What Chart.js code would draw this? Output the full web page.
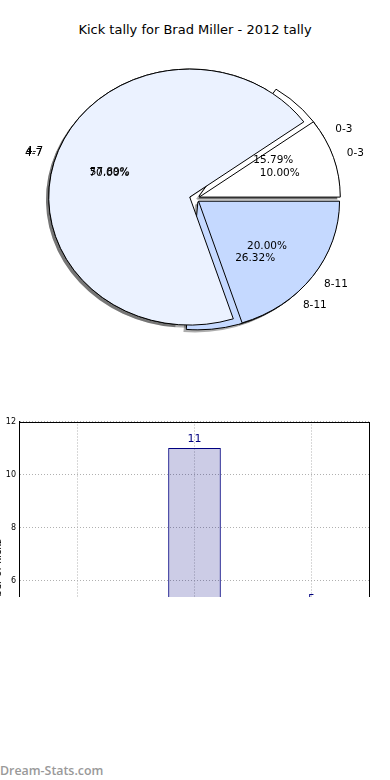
<!DOCTYPE html>
<html><head><meta charset="utf-8">
<script src="https://cdn.jsdelivr.net/npm/chart.js@4/dist/chart.umd.min.js"></script>
<style>
html,body{margin:0;padding:0;background:#fff;width:390px;height:780px;overflow:hidden;position:relative;font-family:"DejaVu Sans",sans-serif;}
#title{position:absolute;top:22px;left:0;width:390px;text-align:center;font-size:13px;line-height:16px;color:#000;}
#pieCanvas{position:absolute;left:0;top:0;}
#barClip{position:absolute;left:0;top:400px;width:390px;height:197px;overflow:hidden;}
#barCanvas{position:absolute;left:0;top:0;}
#ylab{position:absolute;left:-42px;top:174px;width:80px;height:12px;line-height:12px;text-align:center;font-size:10px;color:#000;transform:rotate(-90deg);white-space:nowrap;}
#wm{position:absolute;left:0;top:762px;font-family:"Open Sans",sans-serif;font-weight:600;font-size:12.4px;color:#999;}
</style></head><body>
<div id="title">Kick tally for Brad Miller - 2012 tally</div>
<canvas id="pieCanvas" width="390" height="400"></canvas>
<div id="barClip">
<canvas id="barCanvas" width="390" height="348"></canvas>
<div id="ylab">Number of kicks</div>
</div>
<div id="wm">Dream-Stats.com</div>
<script>
// ---- data ----
const kickRanges = ['0-3', '4-7', '8-11'];
const tally2012 = [3, 11, 5];          // Brad Miller 2012 counts (back pie + bars)
const comparisonPct = [10, 70, 20];    // overlaid comparison pie (%)
const sliceColors = ['#ffffff', '#ebf2ff', '#c5d9ff'];
const yTicksMax = 12;

const rev = a => a.slice().reverse();

const pieDraw = {
  id: 'pieDraw',
  beforeDatasetsDraw(chart) {
    const ctx = chart.ctx;
    const metas = [chart.getDatasetMeta(1), chart.getDatasetMeta(0)];
    const R = 141, k = 128 / 141, d = 5, sx = -2.8, sy = 2.6;
    const cx = metas[0].data[0].x, cy = metas[0].data[0].y;
    function wedge(el, dx, dy) {
      const mid = (el.startAngle + el.endAngle) / 2;
      const ox = Math.cos(mid) * d, oy = Math.sin(mid) * d;
      ctx.save();
      ctx.translate(cx + dx, cy + dy);
      ctx.scale(1, k);
      ctx.beginPath();
      ctx.moveTo(ox, oy);
      ctx.arc(ox, oy, R, el.startAngle, el.endAngle);
      ctx.closePath();
      ctx.restore();
    }
    ctx.save();
    ctx.fillStyle = 'rgba(0,0,0,0.32)';
    metas.forEach(m => m.data.forEach(el => { wedge(el, sx, sy); ctx.fill(); }));
    metas.forEach(m => m.data.forEach(el => {
      wedge(el, 0, 0);
      ctx.fillStyle = el.options.backgroundColor;
      ctx.fill();
      ctx.strokeStyle = '#000';
      ctx.lineWidth = 1;
      ctx.lineJoin = 'miter';
      ctx.stroke();
    }));
    ctx.restore();
    return false;
  },
  afterDraw(chart) {
    const ctx = chart.ctx;
    const R = 141, k = 128 / 141, d = 5;
    const order = [1, 0];
    const cx = chart.getDatasetMeta(1).data[0].x, cy = chart.getDatasetMeta(1).data[0].y;
    ctx.save();
    ctx.font = '10.5px "DejaVu Sans"';
    ctx.fillStyle = '#000';
    ctx.textBaseline = 'middle';
    order.forEach(di => {
      const meta = chart.getDatasetMeta(di);
      const vals = chart.data.datasets[di].data;
      const sum = vals.reduce((a, b) => a + b, 0);
      meta.data.forEach((el, i) => {
        const mid = (el.startAngle + el.endAngle) / 2;
        const ux = Math.cos(mid), uy = Math.sin(mid);
        const lx = cx + ux * (d + 1.1 * R), ly = cy + uy * (d + 1.1 * R) * k;
        ctx.textAlign = ux > 0 ? 'left' : 'right';
        ctx.fillText(chart.data.labels[i], lx, ly);
        const px = cx + ux * (d + 0.6 * R), py = cy + uy * (d + 0.6 * R) * k;
        ctx.textAlign = 'center';
        ctx.fillText((vals[i] / sum * 100).toFixed(2) + '%', px, py);
      });
    });
    ctx.restore();
  }
};

new Chart(document.getElementById('pieCanvas'), {
  type: 'pie',
  data: {
    labels: rev(kickRanges),
    datasets: [
      { data: rev(comparisonPct), backgroundColor: rev(sliceColors), borderColor: '#000', borderWidth: 1 },
      { data: rev(tally2012), backgroundColor: rev(sliceColors), borderColor: '#000', borderWidth: 1 }
    ]
  },
  options: {
    responsive: false, animation: false, devicePixelRatio: 1, rotation: 90,
    layout: { padding: { left: 0, right: 1, top: 0, bottom: 3 } },
    plugins: { legend: { display: false }, tooltip: { enabled: false } }
  },
  plugins: [pieDraw]
});

const barExtras = {
  id: 'barExtras',
  afterDatasetsDraw(chart) {
    const ctx = chart.ctx;
    const meta = chart.getDatasetMeta(0);
    ctx.save();
    ctx.font = '11px "DejaVu Sans"';
    ctx.fillStyle = '#000080';
    ctx.textAlign = 'center';
    ctx.textBaseline = 'bottom';
    meta.data.forEach((el, i) => {
      ctx.fillText(String(chart.data.datasets[0].data[i]), el.x, el.y - 3);
    });
    ctx.restore();
  },
  afterDraw(chart) {
    const ctx = chart.ctx, a = chart.chartArea;
    ctx.save();
    ctx.strokeStyle = '#000';
    ctx.lineWidth = 1;
    ctx.strokeRect(Math.round(a.left) + 0.5, Math.round(a.top) + 0.5, Math.round(a.right - a.left) - 1, Math.round(a.bottom - a.top) - 1);
    ctx.restore();
  }
};

new Chart(document.getElementById('barCanvas'), {
  type: 'bar',
  data: {
    labels: kickRanges,
    datasets: [{
      data: tally2012,
      backgroundColor: 'rgba(0,0,128,0.2)',
      borderColor: '#000080',
      borderWidth: 1,
      barPercentage: 0.45,
      categoryPercentage: 1
    }]
  },
  options: {
    responsive: false, animation: false, devicePixelRatio: 1,
    layout: { padding: { left: 0, right: 20, top: 21.5, bottom: 5.5 } },
    plugins: { legend: { display: false }, tooltip: { enabled: false } },
    scales: {
      x: {
        ticks: { display: false },
        grid: { offset: false, color: '#b0b0b0', drawTicks: false },
        border: { color: '#000', dash: [1, 2] },
        afterFit(s) { s.height = 0; }
      },
      y: {
        min: 0, max: yTicksMax,
        ticks: { stepSize: 2, font: { size: 8, family: 'DejaVu Sans' }, color: '#000', padding: 3 },
        grid: { color: '#b0b0b0', drawTicks: false },
        border: { color: '#000', dash: [1, 2] },
        afterFit(s) { s.width = 19; }
      }
    }
  },
  plugins: [barExtras]
});
</script>
</body></html>
